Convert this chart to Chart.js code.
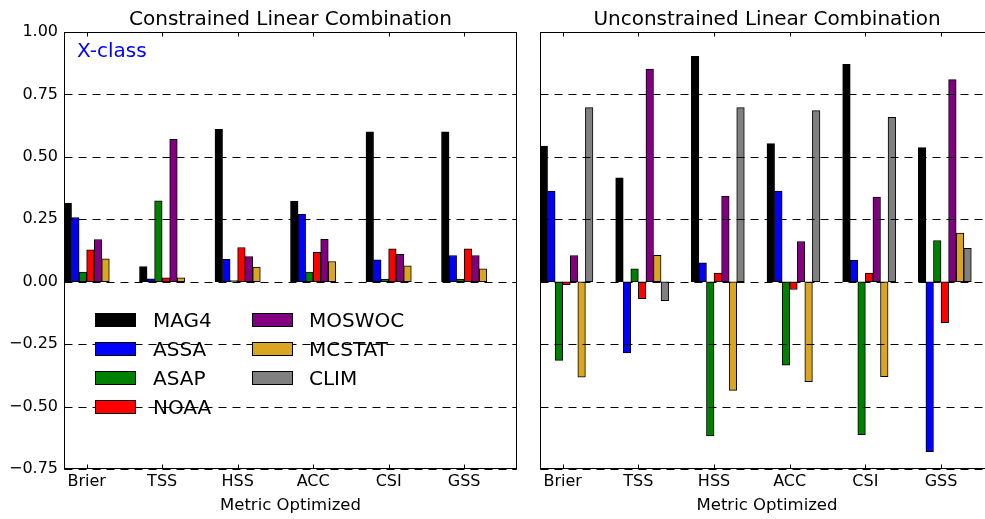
<!DOCTYPE html>
<html>
<head>
<meta charset="utf-8">
<title>Linear Combination Weights - X-class</title>
<script src="https://cdn.jsdelivr.net/npm/chart.js"></script>
<style>
    html, body { margin: 0; padding: 0; background: #fff; overflow: hidden; }
    body { width: 985px; height: 519px; position: relative; font-family: 'DejaVu Sans', sans-serif; color: #000; }
    canvas { position: absolute; top: 0; }
    #left { left: 0; }
    #right { left: 530px; }
    .title { position: absolute; top: 6px; font-size: 20px; line-height: 24px; text-align: center; white-space: nowrap; }
    .tag { position: absolute; left: 77px; top: 38px; font-size: 20px; line-height: 24px; color: #0000ff; }
    .sw { position: absolute; width: 41px; height: 14px; border: 1px solid #000; box-sizing: border-box; }
    .lt { position: absolute; font-size: 20px; line-height: 24px; white-space: nowrap; }
</style>
</head>
<body>
<canvas id="left" width="530" height="519"></canvas>
<canvas id="right" width="470" height="519"></canvas>
<div class="title" style="left:64px;width:453px">Constrained Linear Combination</div>
<div class="title" style="left:540px;width:454px">Unconstrained Linear Combination</div>
<div class="tag">X-class</div>
<div id="legend"></div>

<script>
// Data
const categories = ['Brier', 'TSS', 'HSS', 'ACC', 'CSI', 'GSS'];
const seriesNames = ['MAG4', 'ASSA', 'ASAP', 'NOAA', 'MOSWOC', 'MCSTAT', 'CLIM'];
const seriesColors = ['#000000', '#0000ff', '#008000', '#ff0000', '#800080', '#daa520', '#808080'];
const yTicks = [-0.75, -0.5, -0.25, 0, 0.25, 0.5, 0.75, 1.0];
const yTickLabels = ['\u22120.75', '\u22120.50', '\u22120.25', '0.00', '0.25', '0.50', '0.75', '1.00'];

// constrained weights (left panel)
const conMAG4   = [0.314, 0.061, 0.610, 0.323, 0.600, 0.600];
const conASSA   = [0.257, 0.012, 0.090, 0.270, 0.088, 0.105];
const conASAP   = [0.039, 0.324, 0.005, 0.039, 0.011, 0.011];
const conNOAA   = [0.128, 0.016, 0.137, 0.118, 0.132, 0.132];
const conMOSWOC = [0.169, 0.570, 0.101, 0.170, 0.110, 0.105];
const conMCSTAT = [0.092, 0.016, 0.059, 0.081, 0.064, 0.052];
const conCLIM   = [null, null, null, null, null, null];

// unconstrained weights (right panel)
const unMAG4   = [0.543, 0.416, 0.903, 0.553, 0.871, 0.537];
const unASSA   = [0.363, -0.285, 0.076, 0.363, 0.086, -0.681];
const unASAP   = [-0.315, 0.052, -0.618, -0.334, -0.613, 0.165];
const unNOAA   = [-0.012, -0.068, 0.035, -0.031, 0.035, -0.164];
const unMOSWOC = [0.105, 0.852, 0.342, 0.161, 0.339, 0.809];
const unMCSTAT = [-0.382, 0.106, -0.435, -0.400, -0.380, 0.195];
const unCLIM   = [0.697, -0.076, 0.697, 0.685, 0.658, 0.134];

const constrainedValues = [conMAG4, conASSA, conASAP, conNOAA, conMOSWOC, conMCSTAT, conCLIM];
const unconstrainedValues = [unMAG4, unASSA, unASAP, unNOAA, unMOSWOC, unMCSTAT, unCLIM];

Chart.defaults.font.family = "'DejaVu Sans', sans-serif";
Chart.defaults.color = '#000';

// 7 real bars + 3 empty slots per category, so the group sits at the left of each slot
const SLOTS = 10;
const LABEL_SHIFT = -0.2; // tick at left edge of the 4th bar, as a fraction of the slot

function makeDatasets(values) {
    const ds = seriesNames.map((name, i) => ({
        label: name,
        data: values[i],
        backgroundColor: seriesColors[i],
        borderColor: '#000',
        borderWidth: 1,
        borderSkipped: false,
        categoryPercentage: 1,
        barPercentage: 1
    }));
    for (let k = 0; k < SLOTS - seriesNames.length; k++) {
        ds.push({ label: '', data: categories.map(() => null), categoryPercentage: 1, barPercentage: 1 });
    }
    return ds;
}

// dashed grid over the bars, box frame and inward tick marks (matplotlib classic look)
const framePlugin = {
    id: 'frame',
    afterDatasetsDraw(chart) {
        const { ctx, chartArea: a, scales } = chart;
        const L = Math.round(a.left) + 0.5, R = Math.round(a.right) - 0.5;
        const T = Math.round(a.top) + 0.5, B = Math.round(a.bottom) - 0.5;
        ctx.save();
        ctx.strokeStyle = '#000';
        ctx.lineWidth = 1;
        ctx.setLineDash([8, 6]);
        yTicks.forEach(v => {
            const y = Math.round(scales.y.getPixelForValue(v)) + 0.5;
            ctx.beginPath(); ctx.moveTo(L, y); ctx.lineTo(R, y); ctx.stroke();
        });
        ctx.setLineDash([]);
        const slot = (a.right - a.left) / categories.length;
        categories.forEach((c, i) => {
            const x = Math.round(scales.x.getPixelForTick(i) + LABEL_SHIFT * slot) + 0.5;
            ctx.beginPath();
            ctx.moveTo(x, T); ctx.lineTo(x, T + 4);
            ctx.moveTo(x, B); ctx.lineTo(x, B - 4);
            ctx.stroke();
        });
        yTicks.forEach(v => {
            const y = Math.round(scales.y.getPixelForValue(v)) + 0.5;
            ctx.beginPath();
            ctx.moveTo(L, y); ctx.lineTo(L + 4, y);
            ctx.moveTo(R, y); ctx.lineTo(R - 4, y);
            ctx.stroke();
        });
        ctx.strokeRect(L, T, R - L, B - T);
        ctx.restore();
    }
};

function makeChart(id, values, showY, padding) {
    const slotWidth = (id === 'left') ? 453 / 6 : 454 / 6;
    return new Chart(document.getElementById(id), {
        type: 'bar',
        data: { labels: categories, datasets: makeDatasets(values) },
        options: {
            responsive: false,
            animation: false,
            devicePixelRatio: 1,
            events: [],
            layout: { padding: padding },
            plugins: { legend: { display: false }, tooltip: { enabled: false } },
            scales: {
                x: {
                    afterFit: s => { s.height = 50; },
                    grid: { display: false, drawTicks: false },
                    border: { display: false },
                    ticks: {
                        font: { size: 16 },
                        color: '#000',
                        padding: 3,
                        labelOffset: LABEL_SHIFT * slotWidth,
                        autoSkip: false,
                        maxRotation: 0
                    },
                    title: {
                        display: true,
                        text: 'Metric Optimized',
                        font: { size: 16.5 },
                        color: '#000',
                        padding: { top: 4, bottom: 3 }
                    }
                },
                y: {
                    display: showY,
                    min: -0.75,
                    max: 1.0,
                    afterBuildTicks: s => { s.ticks = yTicks.map(v => ({ value: v })); },
                    afterFit: s => { s.width = showY ? 64 : 0; },
                    grid: { display: false, drawTicks: false },
                    border: { display: false },
                    ticks: {
                        font: { size: 16 },
                        color: '#000',
                        padding: 6,
                        callback: (v, i) => yTickLabels[i]
                    }
                }
            }
        },
        plugins: [framePlugin]
    });
}

makeChart('left', constrainedValues, true, { top: 32, right: 13, bottom: 0, left: 0 });
makeChart('right', unconstrainedValues, false, { top: 32, right: 6, bottom: 0, left: 10 });

// legend: two columns, drawn without frame inside the left panel
const legend = document.getElementById('legend');
const swLeft = [95, 252], txtLeft = [153, 309];
seriesNames.forEach((name, i) => {
    const col = Math.floor(i / 4), row = i % 4;
    const cy = 320 + row * 29;
    const sw = document.createElement('div');
    sw.className = 'sw';
    sw.style.left = swLeft[col] + 'px';
    sw.style.top = (cy - 7) + 'px';
    sw.style.background = seriesColors[i];
    legend.appendChild(sw);
    const t = document.createElement('div');
    t.className = 'lt';
    t.style.left = txtLeft[col] + 'px';
    t.style.top = (cy - 12) + 'px';
    t.textContent = name;
    legend.appendChild(t);
});
</script>
</body>
</html>
